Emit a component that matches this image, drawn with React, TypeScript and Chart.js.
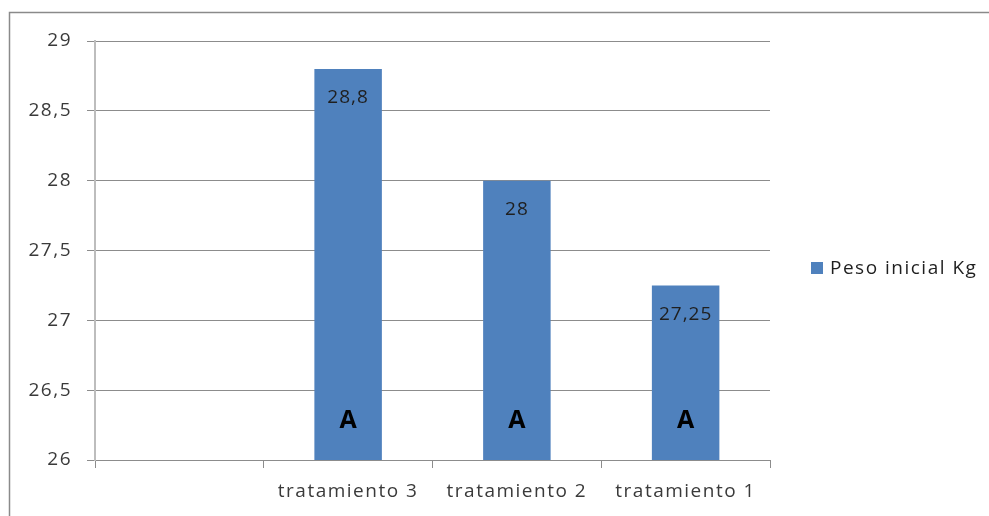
import React, { useEffect, useRef } from "react";
import { Chart, registerables } from "chart.js";

Chart.register(...registerables);

const categories = ["", "tratamiento 3", "tratamiento 2", "tratamiento 1"];
const pesoInicial: (number | null)[] = [null, 28.8, 28, 27.25];
const letters = ["", "A", "A", "A"];
const seriesName = "Peso inicial Kg";
const yMin = 26;
const yMax = 29;
const yStep = 0.5;

const FONT = "'Open Sans', 'Liberation Sans', sans-serif";
const BAR = "#4F81BD";
const TXT = "#3a3a3a";
const SPACING = "1.5px";

const fmt = (v: number) => String(v).replace(".", ",");

export default function App() {
  const ref = useRef<HTMLCanvasElement | null>(null);
  useEffect(() => {
    if (!ref.current) return;
    const deco = {
      id: "deco",
      beforeDraw(chart: any) {
        (chart.ctx as any).letterSpacing = SPACING;
      },
      afterDatasetsDraw(chart: any) {
        const ctx = chart.ctx;
        const meta = chart.getDatasetMeta(0);
        const ys = chart.scales.y;
        ctx.save();
        ctx.textAlign = "center";
        ctx.textBaseline = "middle";
        meta.data.forEach((bar: any, i: number) => {
          const v = pesoInicial[i];
          if (v == null) return;
          ctx.letterSpacing = "1px";
          ctx.fillStyle = "#1f1f1f";
          ctx.font = `19px ${FONT}`;
          ctx.fillText(fmt(v), bar.x, bar.y + 29);
          ctx.letterSpacing = "0px";
          ctx.fillStyle = "#000";
          ctx.font = `bold 25px ${FONT}`;
          ctx.fillText(letters[i], bar.x, ys.getPixelForValue(yMin) - 39);
        });
        ctx.restore();
      },
      afterDraw(chart: any) {
        const ctx = chart.ctx;
        ctx.save();
        // outer border
        ctx.strokeStyle = "#8a8a8a";
        ctx.lineWidth = 1.5;
        ctx.beginPath();
        ctx.moveTo(9.5, 516);
        ctx.lineTo(9.5, 12.5);
        ctx.lineTo(989, 12.5);
        ctx.stroke();
        // legend
        ctx.fillStyle = BAR;
        ctx.fillRect(811, 262, 12, 12);
        ctx.fillStyle = "#1f1f1f";
        ctx.letterSpacing = SPACING;
        ctx.font = `19px ${FONT}`;
        ctx.textAlign = "left";
        ctx.textBaseline = "middle";
        ctx.fillText(seriesName, 830, 269);
        ctx.restore();
      },
    };
    const chart = new Chart(ref.current, {
      type: "bar",
      data: {
        labels: categories,
        datasets: [
          {
            label: seriesName,
            data: pesoInicial,
            backgroundColor: BAR,
            categoryPercentage: 1,
            barPercentage: 0.4,
          },
        ],
      },
      options: {
        animation: false,
        responsive: true,
        maintainAspectRatio: false,
        layout: { padding: { top: 41, right: 219, left: 0, bottom: 0 } },
        plugins: { legend: { display: false }, tooltip: { enabled: false } },
        scales: {
          x: {
            offset: true,
            afterFit: (s: any) => {
              s.height = 56;
            },
            grid: {
              offset: true,
              drawOnChartArea: false,
              drawTicks: true,
              tickLength: 8,
              color: "#8c8c8c",
            },
            border: { color: "#8c8c8c" },
            ticks: { color: TXT, font: { family: FONT, size: 19 }, padding: 12, maxRotation: 0 },
          },
          y: {
            min: yMin,
            max: yMax,
            afterFit: (s: any) => {
              s.width = 95;
            },
            grid: { color: "#8c8c8c", tickLength: 8 },
            border: { color: "#bdbdbd", width: 2 },
            ticks: {
              stepSize: yStep,
              color: TXT,
              font: { family: FONT, size: 19 },
              padding: 15,
              callback: (v: any) => fmt(Number(v)),
            },
          },
        },
      },
      plugins: [deco],
    });
    return () => chart.destroy();
  }, []);
  return (
    <div style={{ position: "fixed", left: 0, top: 0, width: 989, height: 516, background: "#fff" }}>
      <canvas ref={ref} />
    </div>
  );
}
